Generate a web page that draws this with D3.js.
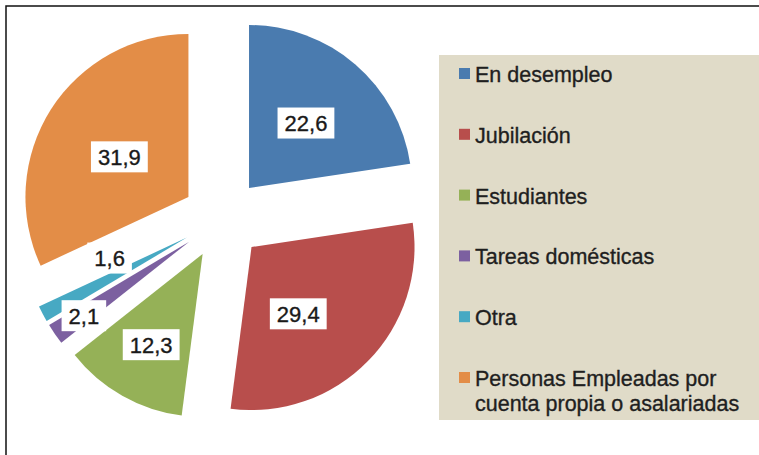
<!DOCTYPE html>
<html>
<head>
<meta charset="utf-8">
<script src="https://cdn.jsdelivr.net/npm/d3@7"></script>
<style>
  html, body { margin: 0; padding: 0; background: #fff; }
  svg { display: block; font-family: "Liberation Sans", Arial, sans-serif; }
</style>
</head>
<body>
<div id="chart"></div>
<script>
// Categories and values (percent)
const categories = [
  'En desempleo',
  'Jubilación',
  'Estudiantes',
  'Tareas domésticas',
  'Otra',
  'Personas Empleadas por cuenta propia o asalariadas'
];
const values = [22.6, 29.4, 12.3, 2.1, 1.6, 31.9];
// Legend text split into lines
const legendLines = [
  ['En desempleo'],
  ['Jubilación'],
  ['Estudiantes'],
  ['Tareas domésticas'],
  ['Otra'],
  ['Personas Empleadas por', 'cuenta propia o asalariadas']
];

const colors = ['#4A7BAF', '#B84E4C', '#95B157', '#7C60A0', '#47A9C3', '#E38D47'];

// Label placement: [distance as fraction of radius, angle shift in degrees]
const labelPlacement = [[0.53, 0.5], [0.50, 10.6], [0.64, 0], [0.79, -0.6], [0.49, 13], [0.49, -2.4]];

const width = 759;
const height = 455;

const svg = d3.select('#chart')
  .append('svg')
  .attr('width', width)
  .attr('height', height);

// Outer frame (only left and top edges are visible)
svg.append('rect')
  .attr('x', 6)
  .attr('y', 6)
  .attr('width', 800)
  .attr('height', 500)
  .attr('fill', 'none')
  .attr('stroke', '#111')
  .attr('stroke-width', 1.5);

// Pie
const cx = 222.6;
const cy = 218.7;
const radius = 163;
const explode = 40.5;

const pie = d3.pie().sort(null).value(d => d);
const arcs = pie(values);
const arc = d3.arc().innerRadius(0).outerRadius(radius);

const fmt = d3.formatLocale({ decimal: ',', thousands: '.', grouping: [3], currency: ['', ''] }).format('.1f');

const pieGroup = svg.append('g')
  .attr('transform', `translate(${cx},${cy})`);

function dir(a) {
  return [Math.sin(a), -Math.cos(a)];
}

pieGroup.selectAll('path.slice')
  .data(arcs)
  .enter()
  .append('path')
  .attr('class', 'slice')
  .attr('d', arc)
  .attr('fill', (d, i) => colors[i])
  .attr('transform', d => {
    const [dx, dy] = dir((d.startAngle + d.endAngle) / 2);
    return `translate(${dx * explode},${dy * explode})`;
  });

// Data labels with white boxes
const labels = pieGroup.selectAll('g.label')
  .data(arcs)
  .enter()
  .append('g')
  .attr('class', 'label')
  .attr('transform', (d, i) => {
    const mid = (d.startAngle + d.endAngle) / 2;
    const [ex, ey] = dir(mid);
    const [f, shift] = labelPlacement[i];
    const [lx, ly] = dir(mid + shift * Math.PI / 180);
    const x = ex * explode + lx * f * radius;
    const y = ey * explode + ly * f * radius;
    return `translate(${x},${y})`;
  });

labels.append('text')
  .attr('text-anchor', 'middle')
  .attr('dy', '0.36em')
  .attr('font-size', '22px')
  .attr('fill', '#1a1a1a')
  .attr('stroke', '#1a1a1a')
  .attr('stroke-width', 0.35)
  .text(d => fmt(d.data));

labels.each(function() {
  const g = d3.select(this);
  const bb = g.select('text').node().getBBox();
  g.insert('rect', 'text')
    .attr('x', -bb.width / 2 - 7)
    .attr('y', -15.5)
    .attr('width', bb.width + 14)
    .attr('height', 31)
    .attr('fill', '#fff');
});

// Legend
const legend = svg.append('g');

legend.append('rect')
  .attr('x', 439)
  .attr('y', 55)
  .attr('width', 320)
  .attr('height', 365)
  .attr('fill', '#E0DBC8');

const rowY = d3.scaleLinear().domain([0, categories.length - 1]).range([82, 386]);

const items = legend.selectAll('g.item')
  .data(categories)
  .enter()
  .append('g')
  .attr('class', 'item')
  .attr('transform', (d, i) => `translate(0,${rowY(i)})`);

items.append('rect')
  .attr('x', 459)
  .attr('y', -14)
  .attr('width', 11)
  .attr('height', 11)
  .attr('fill', (d, i) => colors[i]);

items.append('text')
  .attr('x', 475)
  .attr('font-size', '21.5px')
  .attr('fill', '#1f1f1f')
  .attr('stroke', '#1f1f1f')
  .attr('stroke-width', 0.35)
  .selectAll('tspan')
  .data((d, i) => legendLines[i])
  .enter()
  .append('tspan')
  .attr('x', 475)
  .attr('dy', (d, j) => j === 0 ? 0 : 24.5)
  .text(d => d);
</script>
</body>
</html>
